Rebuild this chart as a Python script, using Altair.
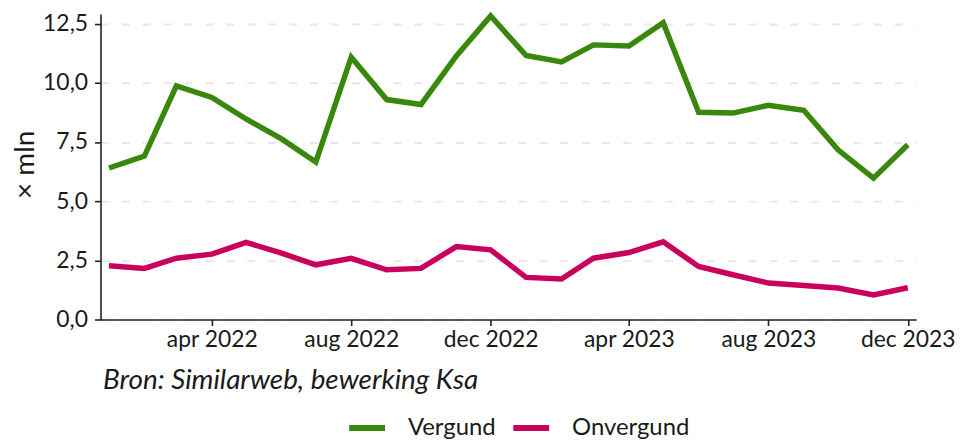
import altair as alt
import pandas as pd

months = [
    "2022-01-01", "2022-02-01", "2022-03-01", "2022-04-01", "2022-05-01", "2022-06-01",
    "2022-07-01", "2022-08-01", "2022-09-01", "2022-10-01", "2022-11-01", "2022-12-01",
    "2023-01-01", "2023-02-01", "2023-03-01", "2023-04-01", "2023-05-01", "2023-06-01",
    "2023-07-01", "2023-08-01", "2023-09-01", "2023-10-01", "2023-11-01", "2023-12-01",
]
vergund = [6.40, 6.90, 9.87, 9.38, 8.47, 7.63, 6.65, 11.08, 9.29, 9.08, 11.13, 12.82,
           11.15, 10.88, 11.60, 11.55, 12.54, 8.75, 8.72, 9.05, 8.84, 7.17, 5.97, 7.38]
onvergund = [2.27, 2.16, 2.59, 2.76, 3.26, 2.80, 2.31, 2.58, 2.10, 2.16, 3.08, 2.94,
             1.78, 1.71, 2.59, 2.83, 3.28, 2.24, 1.89, 1.54, 1.44, 1.33, 1.04, 1.34]
series = ["Vergund", "Onvergund"]
colors = ["#39870c", "#ca005d"]
x_ticks = [(2022, 4), (2022, 8), (2022, 12), (2023, 4), (2023, 8), (2023, 12)]
y_ticks = [0, 2.5, 5, 7.5, 10, 12.5]
source = "Bron: Similarweb, bewerking Ksa"
y_title = "× mln"

df = pd.DataFrame({
    "maand": months * 2,
    "waarde": vergund + onvergund,
    "reeks": [series[0]] * len(months) + [series[1]] * len(months),
})

FONT = "Lato"
TXT = "#1a1a1a"

chart = alt.Chart(df).mark_line(strokeWidth=5.5).encode(
    x=alt.X(
        "maand:T",
        scale=alt.Scale(type="utc", padding=8.5, nice=False),
        axis=alt.Axis(
            title=source,
            values=[alt.DateTime(year=y, month=m, date=1, utc=True) for y, m in x_ticks],
            labelExpr="lower(utcFormat(datum.value, '%b %Y'))",
            grid=False,
            tickSize=6,
            labelBaseline="alphabetic",
            labelPadding=21,
            titleX=2,
            titleY=69,
            titleAlign="left",
            titleBaseline="alphabetic",
            titleFontStyle="italic",
            titleFontWeight="normal",
            titleFontSize=28,
        ),
    ),
    y=alt.Y(
        "waarde:Q",
        scale=alt.Scale(domain=[0, 12.9], nice=False),
        axis=alt.Axis(
            title=y_title,
            values=y_ticks,
            labelExpr="replace(format(datum.value, '.1f'), '.', ',')",
            tickSize=6,
            labelPadding=7,
            gridDash=[8, 13],
            gridColor="#e8e8e8",
            gridWidth=2,
            titleX=-67,
            titleY=151,
            titleAngle=270,
            titleAlign="center",
            titleBaseline="alphabetic",
            titleFontWeight="normal",
            titleFontSize=28,
        ),
    ),
    color=alt.Color(
        "reeks:N",
        scale=alt.Scale(domain=series, range=colors),
        sort=series,
        legend=alt.Legend(
            title=None,
            orient="none",
            direction="horizontal",
            legendX=247,
            legendY=395,
            symbolType="stroke",
            symbolSize=1296,
            symbolStrokeWidth=6,
            labelOffset=20,
            columnPadding=5,
            labelFontSize=24,
        ),
    ),
).properties(
    width=820,
    height=307,
    autosize=alt.AutoSizeParams(type="none"),
    padding={"left": 93, "top": 5, "right": 40, "bottom": 121},
).configure_view(
    stroke=None
).configure_axis(
    labelFont=FONT,
    titleFont=FONT,
    labelFontSize=23,
    labelColor=TXT,
    titleColor=TXT,
    domainColor="#222222",
    tickColor="#222222",
    domainWidth=1.6,
    tickWidth=1.6,
).configure_legend(
    labelFont=FONT,
    labelColor=TXT,
)

chart.save("out.html", embed_options={"renderer": "svg", "actions": False})
